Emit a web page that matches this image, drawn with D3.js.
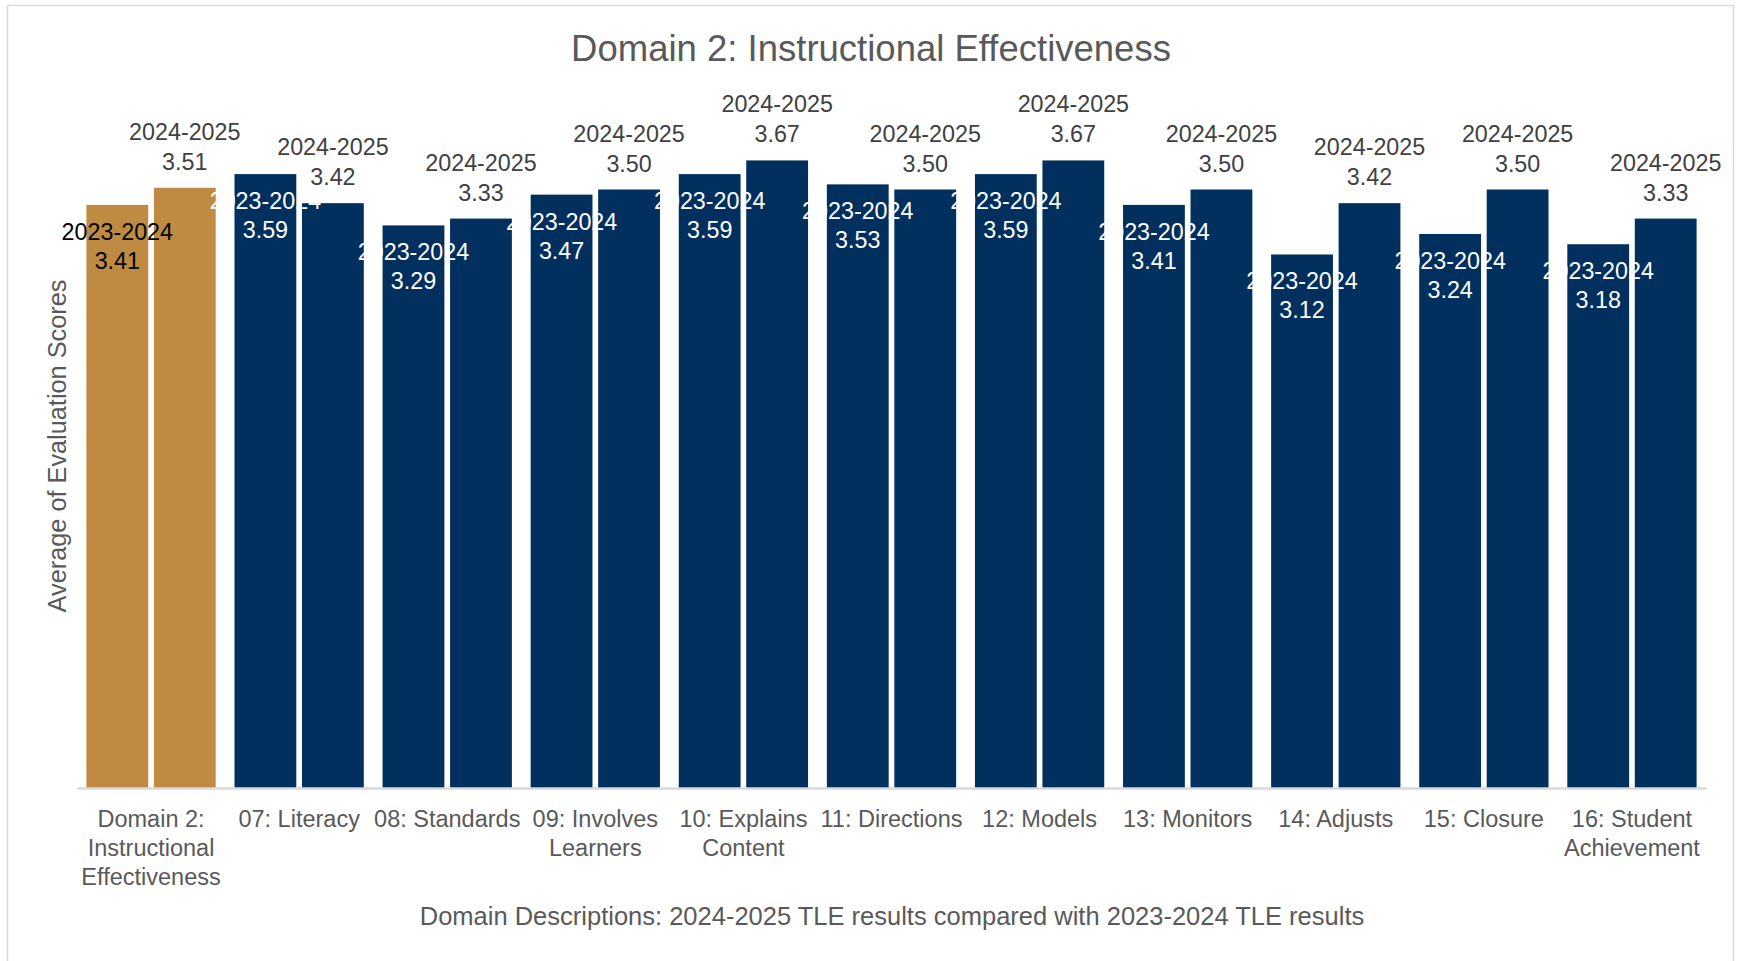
<!DOCTYPE html>
<html>
<head>
<meta charset="utf-8">
<script src="https://cdn.jsdelivr.net/npm/d3@7"></script>
<style>
  body { margin: 0; background: #fff; }
  text { font-family: "Liberation Sans", Arial, sans-serif; }
</style>
</head>
<body>
<div id="chart"></div>
<script>
var width = 1737,
    height = 961;

// categories (line breaks as Excel wraps them)
var categories = [
  "Domain 2:\nInstructional\nEffectiveness",
  "07: Literacy",
  "08: Standards",
  "09: Involves\nLearners",
  "10: Explains\nContent",
  "11: Directions",
  "12: Models",
  "13: Monitors",
  "14: Adjusts",
  "15: Closure",
  "16: Student\nAchievement"
];
var seriesNames = ["2023-2024", "2024-2025"];
var scores2324 = [3.41, 3.59, 3.29, 3.47, 3.59, 3.53, 3.59, 3.41, 3.12, 3.24, 3.18];
var scores2425 = [3.51, 3.42, 3.33, 3.50, 3.67, 3.50, 3.67, 3.50, 3.42, 3.50, 3.33];
var yDomain = [0, 4];

var gold = "#bf8b42",
    navy = "#012f5e";

var rows = categories.map(function(c, i) {
  return {cat: c, idx: i, values: [
    {series: seriesNames[0], v: scores2324[i], s: 0},
    {series: seriesNames[1], v: scores2425[i], s: 1}
  ]};
});

var svg = d3.select("#chart")
    .append("svg")
    .attr("width", width)
    .attr("height", height);

// chart border
svg.append("rect")
    .attr("x", 7.5)
    .attr("y", 5.5)
    .attr("width", 1726)
    .attr("height", 980)
    .style("fill", "none")
    .style("stroke", "#d9d9d9")
    .style("stroke-width", 1.5);

var x0 = d3.scaleBand()
    .domain(categories)
    .range([77, 1706])
    .padding(0);

var x1 = d3.scaleBand()
    .domain([0, 1])
    .range([9.4, x0.bandwidth() - 9.4])
    .paddingInner(0.084)
    .paddingOuter(0);

var y = d3.scaleLinear()
    .domain(yDomain)
    .range([788, 104]);

// title
svg.append("text")
    .attr("x", 871)
    .attr("y", 48)
    .attr("text-anchor", "middle")
    .attr("dominant-baseline", "central")
    .style("fill", "#595959")
    .style("font-size", "36.5px")
    .text("Domain 2: Instructional Effectiveness");

var groups = svg.selectAll("g.grp")
    .data(rows)
    .enter().append("g")
    .attr("class", "grp")
    .attr("transform", function(d) { return "translate(" + x0(d.cat) + ",0)"; });

groups.selectAll("rect")
    .data(function(d) { return d.values.map(function(v) { v.idx = d.idx; return v; }); })
    .enter().append("rect")
    .attr("x", function(d) { return x1(d.s); })
    .attr("y", function(d) { return y(d.v); })
    .attr("width", x1.bandwidth())
    .attr("height", function(d) { return y(0) - y(d.v); })
    .style("fill", function(d) { return d.idx === 0 ? gold : navy; });

// x axis
var xAxis = svg.append("g")
    .attr("transform", "translate(0," + y(0) + ")")
    .call(d3.axisBottom(x0).tickSize(0).tickFormat(""));
xAxis.select(".domain")
    .attr("stroke", "#d9d9d9")
    .attr("stroke-width", 2.5);

xAxis.selectAll(".tick").each(function(d) {
  var lines = d.split("\n");
  var t = d3.select(this).append("text")
      .attr("text-anchor", "middle")
      .style("fill", "#595959")
      .style("font-size", "23.5px");
  lines.forEach(function(l, k) {
    t.append("tspan")
      .attr("x", 0)
      .attr("y", 31 + k * 28.8)
      .attr("dominant-baseline", "central")
      .text(l);
  });
});

// data labels
var lab = groups.selectAll("g.lab")
    .data(function(d) { return d.values; })
    .enter().append("g")
    .attr("class", "lab")
    .attr("transform", function(d) { return "translate(" + (x1(d.s) + x1.bandwidth() / 2) + "," + y(d.v) + ")"; });

lab.each(function(d) {
  var g = d3.select(this);
  var off = d.s === 0 ? [27, 56] : [-56, -26];
  var col = d.s === 1 ? "#404040" : (d.idx === 0 ? "#000000" : "#ffffff");
  [d.series, d3.format(".2f")(d.v)].forEach(function(txt, k) {
    g.append("text")
      .attr("y", off[k])
      .attr("text-anchor", "middle")
      .attr("dominant-baseline", "central")
      .style("fill", col)
      .style("font-size", "23.3px")
      .text(txt);
  });
});

// axis titles
svg.append("text")
    .attr("x", 892)
    .attr("y", 916)
    .attr("text-anchor", "middle")
    .attr("dominant-baseline", "central")
    .style("fill", "#595959")
    .style("font-size", "25.5px")
    .text("Domain Descriptions: 2024-2025 TLE results compared with 2023-2024 TLE results");

svg.append("text")
    .attr("transform", "translate(57,446) rotate(-90)")
    .attr("text-anchor", "middle")
    .attr("dominant-baseline", "central")
    .style("fill", "#595959")
    .style("font-size", "25.3px")
    .text("Average of Evaluation Scores");
</script>
</body>
</html>
